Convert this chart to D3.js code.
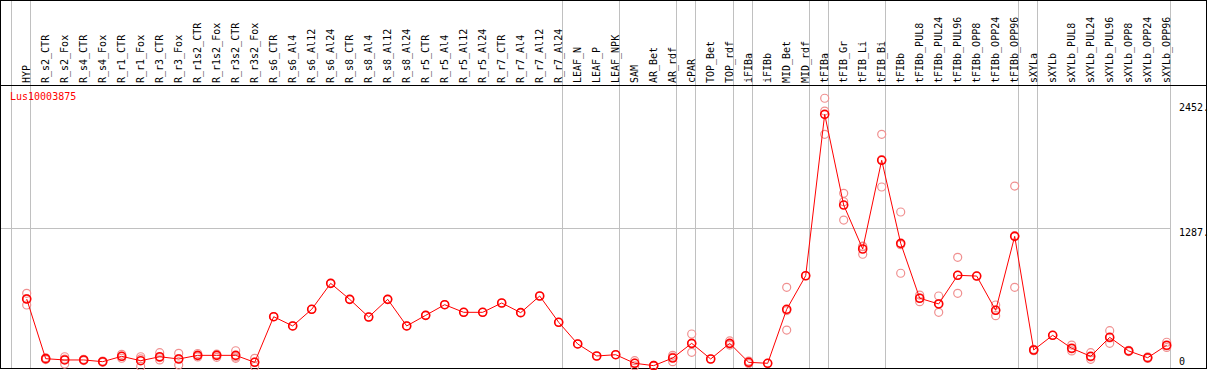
<!DOCTYPE html>
<html>
<head>
<meta charset="utf-8">
<title>Lus10003875</title>
<script src="https://d3js.org/d3.v7.min.js"></script>
<style>
  body { margin: 0; background: #fff; }
  text { font-family: "DejaVu Sans Mono", monospace; font-size: 10px; }
</style>
</head>
<body>
<div id="chart"></div>
<script>
// sample names, left to right
var categories = ["HYP", "R_s2_CTR", "R_s2_Fox", "R_s4_CTR", "R_s4_Fox", "R_r1_CTR", "R_r1_Fox",
  "R_r3_CTR", "R_r3_Fox", "R_r1s2_CTR", "R_r1s2_Fox", "R_r3s2_CTR", "R_r3s2_Fox",
  "R_s6_CTR", "R_s6_Al4", "R_s6_Al12", "R_s6_Al24", "R_s8_CTR", "R_s8_Al4", "R_s8_Al12", "R_s8_Al24",
  "R_r5_CTR", "R_r5_Al4", "R_r5_Al12", "R_r5_Al24", "R_r7_CTR", "R_r7_Al4", "R_r7_Al12", "R_r7_Al24",
  "LEAF_N", "LEAF_P", "LEAF_NPK", "SAM", "AR_Bet", "AR_rdf", "cPAR", "TOP_Bet", "TOP_rdf",
  "iFIBa", "iFIBb", "MID_Bet", "MID_rdf", "tFIBa", "tFIB_Gr", "tFIB_Li", "tFIB_Bi",
  "tFIBb", "tFIBb_PUL8", "tFIBb_PUL24", "tFIBb_PUL96", "tFIBb_OPP8", "tFIBb_OPP24", "tFIBb_OPP96",
  "sXYLa", "sXYLb", "sXYLb_PUL8", "sXYLb_PUL24", "sXYLb_PUL96", "sXYLb_OPP8", "sXYLb_OPP24", "sXYLb_OPP96"];

// mean expression per sample
var meanValues = [628, 72, 60, 60, 44, 94, 53, 90, 69, 103, 103, 103, 38,
  463, 377, 532, 774, 625, 460, 625, 377,
  476, 575, 504, 504, 591, 501, 656, 411,
  209, 97, 109, 29, 7, 78, 215, 69, 215,
  38, 29, 532, 845, 2349, 1504, 1094, 1921,
  1147, 635, 582, 849, 842, 523, 1212,
  153, 290, 169, 94, 271, 144, 81, 197];

// single replicates per sample
var replicates = [[681, 631, 572], [80, 72, 64], [90, 68, 22], [66, 60, 54], [50, 44, 38],
  [113, 94, 76], [90, 70, 0], [128, 82, 60], [122, 72, 13], [120, 103, 88], [114, 110, 85],
  [146, 88, 75], [75, 40, 0],
  [463], [377], [532], [774], [625], [460], [625], [377],
  [476], [575], [504], [504], [591], [501], [656], [411],
  [209], [97], [109], [53, 30, 4], [10, 7, 4], [103, 87, 44], [302, 212, 131], [69], [237, 209, 199],
  [50, 38, 26], [29], [737, 520, 339], [845], [2499, 2380, 2163], [1613, 1535, 1364], [1116, 1120, 1045], [2163, 1928, 1672],
  [1439, 1134, 868], [665, 637, 603], [656, 586, 504], [1017, 849, 681], [842], [572, 524, 473], [1681, 1218, 737],
  [160, 153, 146], [290], [199, 164, 144], [128, 88, 66], [333, 265, 215], [150, 144, 138], [88, 81, 74], [225, 190, 176]];

// last sample of each group (a grey line is drawn after it)
var groupEnds = ["HYP", "R_r7_Al24", "LEAF_NPK", "AR_rdf", "cPAR", "TOP_rdf", "iFIBa",
  "MID_rdf", "tFIBa", "tFIB_Bi", "tFIBb_OPP96", "sXYLa", "sXYLb_OPP96"];

var tickValues = [2452, 1287, 0];
var tickLabels = ["2452.", "1287.", "0"];
var title = "Lus10003875";

var width = 1209, height = 370;
var headerY = 85;

var svg = d3.select("#chart").append("svg")
    .attr("width", width)
    .attr("height", height);

var x = d3.scalePoint()
    .domain(categories)
    .range([26.7, 1166.7]);
var step = x.step();

var y = d3.scaleLinear()
    .domain([0, 2452])
    .range([366.4, 103.3]);

// grey separators
var sepX = [x(categories[0]) - step + 3.5].concat(groupEnds.map(function (c) { return x(c) + 3.5; }));
svg.selectAll(".sep")
    .data(sepX)
  .enter().append("line")
    .attr("class", "sep")
    .attr("x1", function (d) { return Math.round(d) + 0.5; })
    .attr("x2", function (d) { return Math.round(d) + 0.5; })
    .attr("y1", 0)
    .attr("y2", 368)
    .attr("stroke", "#c0c0c0")
    .attr("stroke-width", 1);

// grey horizontal mid line
svg.append("line")
    .attr("x1", 0)
    .attr("x2", Math.round(sepX[sepX.length - 1]) + 0.5)
    .attr("y1", Math.round(y(1287)) + 0.5)
    .attr("y2", Math.round(y(1287)) + 0.5)
    .attr("stroke", "#c0c0c0");

// frame + header rule
svg.append("rect")
    .attr("x", 0.5).attr("y", 0.5)
    .attr("width", 1206).attr("height", 368)
    .attr("fill", "none")
    .attr("stroke", "#000");
svg.append("line")
    .attr("x1", 0).attr("x2", 1207)
    .attr("y1", headerY + 0.5).attr("y2", headerY + 0.5)
    .attr("stroke", "#000");

// sample labels
svg.selectAll(".lab")
    .data(categories)
  .enter().append("text")
    .attr("class", "lab")
    .attr("transform", function (d) { return "translate(" + (x(d) + 3.5) + ",83) rotate(-90)"; })
    .attr("fill", "#000")
    .text(function (d) { return d; });

// title
svg.append("text")
    .attr("x", 10)
    .attr("y", 100)
    .attr("fill", "#ff0000")
    .text(title);

// right value labels
svg.selectAll(".tick")
    .data(tickValues)
  .enter().append("text")
    .attr("class", "tick")
    .attr("x", 1179)
    .attr("y", function (d) { return d === 0 ? y(d) - 1 : y(d) + 7.6; })
    .attr("fill", "#000")
    .text(function (d, i) { return tickLabels[i]; });

// replicate circles
var reps = [];
replicates.forEach(function (r, i) {
    r.forEach(function (v) { reps.push({ c: categories[i], v: v }); });
});
svg.selectAll(".rep")
    .data(reps)
  .enter().append("circle")
    .attr("class", "rep")
    .attr("cx", function (d) { return x(d.c); })
    .attr("cy", function (d) { return y(d.v); })
    .attr("r", 4)
    .attr("fill", "none")
    .attr("stroke", "#f09090")
    .attr("stroke-width", 1.2);

// mean line
var line = d3.line()
    .x(function (d, i) { return x(categories[i]); })
    .y(function (d) { return y(d); });
svg.append("path")
    .datum(meanValues)
    .attr("d", line)
    .attr("fill", "none")
    .attr("stroke", "#ff0000")
    .attr("stroke-width", 1);

svg.selectAll(".mean")
    .data(meanValues)
  .enter().append("circle")
    .attr("class", "mean")
    .attr("cx", function (d, i) { return x(categories[i]); })
    .attr("cy", function (d) { return y(d); })
    .attr("r", 4)
    .attr("fill", "none")
    .attr("stroke", "#ff0000")
    .attr("stroke-width", 1.6);
</script>
</body>
</html>
